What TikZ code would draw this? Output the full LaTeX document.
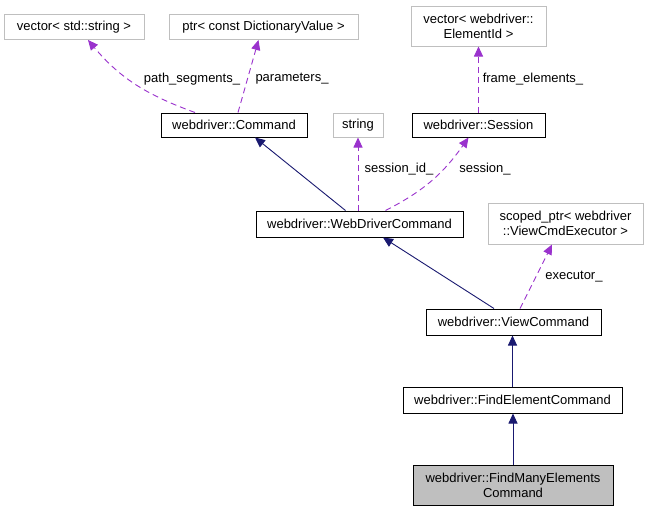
\documentclass[tikz,border=0pt]{standalone}
\usepackage{fontspec}
\setmainfont{Liberation Sans}
\usetikzlibrary{arrows.meta}
\definecolor{Inherit}{HTML}{191970}
\definecolor{Member}{HTML}{9A32CD}
\definecolor{Ext}{HTML}{BFBFBF}

\begin{document}
\begin{tikzpicture}[x=1pt,y=-1pt,
  every node/.style={align=center,font=\fontsize{13}{15}\selectfont,inner sep=0pt},
  cls/.style={draw=black,fill=white,minimum height=25pt,line width=1pt},
  ext/.style={draw=Ext,fill=white,minimum height=25pt,line width=1pt},
  inh/.style={-{Triangle[length=10pt,width=9pt]},Inherit,line width=.9pt},
  mem/.style={-{Triangle[length=10pt,width=9pt]},Member,line width=.9pt,dash pattern=on 6pt off 4pt}]
  \fill[white] (0,0) rectangle (648,512);
  \useasboundingbox (0,0) rectangle (648,512);
  % external types
  \node[ext,minimum width=140pt] (vstr) at (74,27) {vector< std::string >};
  \node[ext,minimum width=189pt] (ptr) at (263.5,27) {ptr< const DictionaryValue >};
  \node[ext,minimum width=135pt,minimum height=40pt] (velem) at (478.5,26) {vector< webdriver::\\ElementId >};
  \node[ext,minimum width=50pt,minimum height=24pt] (str) at (358,125) {string};
  \node[ext,minimum width=155pt,minimum height=41pt] (sptr) at (565.5,223.5) {scoped\_ptr< webdriver\\::ViewCmdExecutor >};
  % classes
  \node[cls,minimum width=146pt,minimum height=24pt] (cmd) at (234,125) {webdriver::Command};
  \node[cls,minimum width=133pt,minimum height=24pt] (sess) at (478.5,125) {webdriver::Session};
  \node[cls,minimum width=207pt,minimum height=26pt] (wdc) at (359.5,224) {webdriver::WebDriverCommand};
  \node[cls,minimum width=175pt,minimum height=26pt] (vc) at (513.5,322) {webdriver::ViewCommand};
  \node[cls,minimum width=219pt,minimum height=26pt] (fec) at (512.5,400) {webdriver::FindElementCommand};
  \node[cls,fill=Ext,minimum width=200pt,minimum height=40pt] (fmec) at (513,485) {webdriver::FindManyElements\\Command};
  % member labels
  \node (lps) at (192,79) {path\_segments\_};
  \node (lpar) at (292,79) {parameters\_};
  \node (lfe) at (533,79) {frame\_elements\_};
  \node (lsid) at (399,169) {session\_id\_};
  \node (lses) at (485,169) {session\_};
  \node (lexe) at (574,277) {executor\_};
  % members
  \draw[mem] ([xshift=-39pt]cmd.north) to[out=160,in=-50] ([xshift=14pt]vstr.south);
  \draw[mem] ([xshift=4pt]cmd.north) -- ([xshift=-5pt]ptr.south);
  \draw[mem] (sess.north) -- (velem.south);
  \draw[mem] (str.south |- wdc.north) -- (str.south);
  \draw[mem] ([xshift=26pt]wdc.north) to[out=27,in=-125] ([xshift=-10pt]sess.south);
  \draw[mem] ([xshift=6.5pt]vc.north) -- ([xshift=-13.5pt]sptr.south);
  % inheritance
  \draw[inh] ([xshift=-14pt]wdc.north) -- ([xshift=21pt]cmd.south);
  \draw[inh] ([xshift=-19.5pt]vc.north) -- ([xshift=23.5pt]wdc.south);
  \draw[inh] (fec.north) -- (fec.north |- vc.south);
  \draw[inh] (fmec.north) -- (fmec.north |- fec.south);
\end{tikzpicture}
\end{document}
